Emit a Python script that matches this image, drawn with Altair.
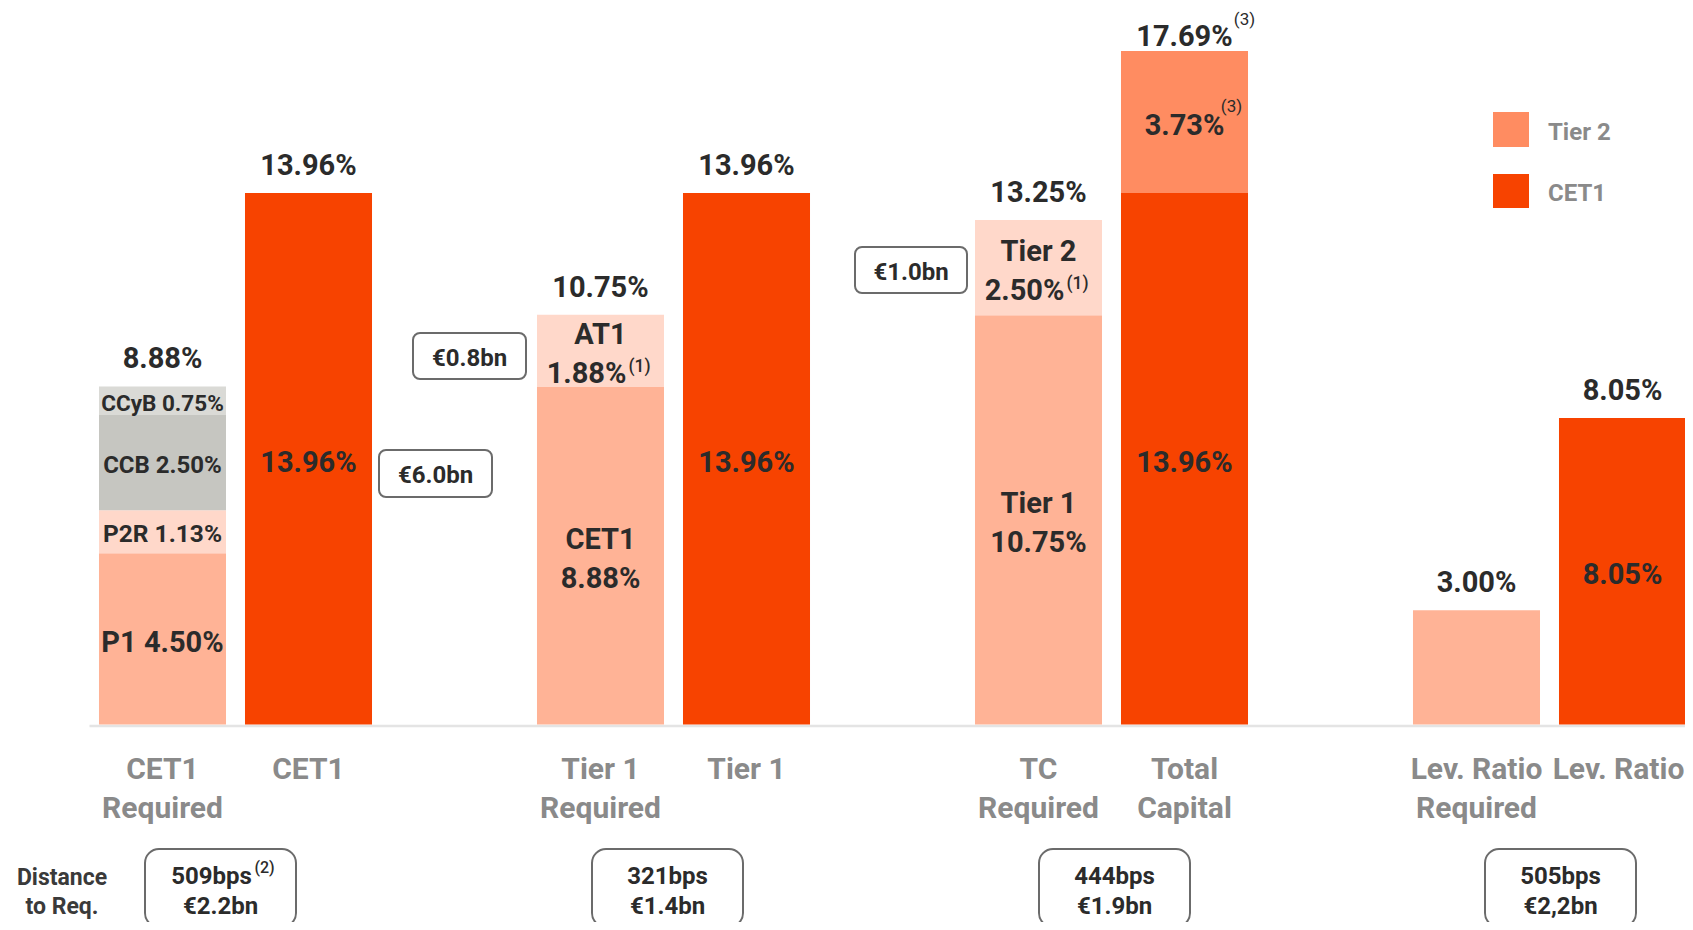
import altair as alt
import pandas as pd

# ---------------- data ----------------
slots = ["CET1 Required", "CET1", "gap_a", "Tier 1 Required", "Tier 1", "gap_b",
         "TC Required", "Total Capital", "gap_c", "Lev. Ratio Required", "Lev. Ratio"]

cat_slots = ["CET1 Required", "CET1", "Tier 1 Required", "Tier 1",
             "TC Required", "Total Capital", "Lev. Ratio Required", "Lev. Ratio"]
cat_labels = ["CET1\nRequired", "CET1", "Tier 1\nRequired", "Tier 1",
              "TC\nRequired", "Total\nCapital", "Lev. Ratio\nRequired", "Lev. Ratio"]
totals = [8.88, 13.96, 10.75, 13.96, 13.25, 17.69, 3.00, 8.05]

seg_slot = ["CET1 Required", "CET1 Required", "CET1 Required", "CET1 Required",
            "CET1",
            "Tier 1 Required", "Tier 1 Required",
            "Tier 1",
            "TC Required", "TC Required",
            "Total Capital", "Total Capital",
            "Lev. Ratio Required",
            "Lev. Ratio"]
seg_name = ["P1", "P2R", "CCB", "CCyB", "CET1", "CET1 req", "AT1", "CET1",
            "Tier 1 req", "Tier 2 req", "CET1", "Tier 2", "Lev req", "CET1"]
seg_kind = ["Requirement", "Add-on", "CCB", "CCyB", "CET1", "Requirement", "Add-on", "CET1",
            "Requirement", "Add-on", "CET1", "Tier 2", "Requirement", "CET1"]
seg_value = [4.50, 1.13, 2.50, 0.75, 13.96, 8.88, 1.88, 13.96,
             10.75, 2.50, 13.96, 3.73, 3.00, 8.05]
seg_line1 = ["P1 4.50%", "P2R 1.13%", "CCB 2.50%", "CCyB 0.75%", "13.96%",
             "CET1", "AT1", "13.96%", "Tier 1", "Tier 2", "13.96%", "3.73%", "", "8.05%"]
seg_line2 = ["", "", "", "", "", "8.88%", "1.88%", "", "10.75%", "2.50%", "", "", "", ""]
seg_sup = ["", "", "", "", "", "", "(1)", "", "", "(1)", "", "", "", ""]

gap_amounts = ["€6.0bn", "€0.8bn", "€1.0bn"]
distance_bps = ["509bps", "321bps", "444bps", "505bps"]
distance_eur = ["€2.2bn", "€1.4bn", "€1.9bn", "€2,2bn"]
distance_sup = ["(2)", "", "", ""]
legend_names = ["Tier 2", "CET1"]

kind_domain = ["Requirement", "Add-on", "CCB", "CCyB", "CET1", "Tier 2"]
kind_range = ["#FFB396", "#FFD8CA", "#C6C6C1", "#DADAD6", "#F74300", "#FF8C61"]

# ---------------- tables ----------------
seg = pd.DataFrame({"slot": seg_slot, "name": seg_name, "kind": seg_kind,
                    "value": seg_value, "line1": seg_line1, "line2": seg_line2,
                    "sup": seg_sup})
seg["y1"] = seg.groupby("slot")["value"].cumsum()
seg["y0"] = seg["y1"] - seg["value"]
seg["mid"] = (seg["y0"] + seg["y1"]) / 2

tot = pd.DataFrame({"slot": cat_slots, "total": totals})
tot["label"] = tot["total"].map(lambda v: f"{v:.2f}%")
cats = pd.DataFrame({"slot": cat_slots, "label": cat_labels})

FONT = "Roboto"
DARK = "#2b2b2b"
GREY = "#8a8a8a"

xs = alt.Scale(domain=slots, range=[81.5, 1687.5], paddingInner=0.13, paddingOuter=0.065)
ys = alt.Scale(domain=[0, 20], range=[716.5, -44.9], nice=False)
X = alt.X("slot:N", scale=xs, axis=None)
YMID = alt.Y("mid:Q", scale=ys, axis=None)

bars = alt.Chart(seg).mark_bar().encode(
    x=X,
    y=alt.Y("y0:Q", scale=ys, axis=None),
    y2="y1:Q",
    color=alt.Color("kind:N", scale=alt.Scale(domain=kind_domain, range=kind_range), legend=None),
)

small_sizes = {"CCyB": 22.5, "CCB": 24, "P2R": 24.5}
small_filter = " || ".join(f"datum.name === '{n}'" for n in small_sizes)


def seg_text(filt, field, size=29, dx=0, dy=0, weight="bold"):
    return alt.Chart(seg).transform_filter(filt).mark_text(
        font=FONT, fontWeight=weight, fontSize=size, color=DARK, baseline="middle",
        align="center", dx=dx, dy=dy).encode(x=X, y=YMID, text=f"{field}:N")


layers_text = [
    seg_text(f"datum.line1 !== '' && datum.line2 === '' && !({small_filter})", "line1", dy=4),
    seg_text("datum.line2 !== ''", "line1", dy=-15.5),
    seg_text("datum.line2 !== '' && datum.sup === ''", "line2", dy=23.5),
    seg_text("datum.line2 !== '' && datum.sup !== ''", "line2", dx=-14, dy=23.5),
    seg_text("datum.sup !== ''", "sup", size=17.5, dx=39, dy=16.5, weight=500),
]
for n, s in small_sizes.items():
    layers_text.append(seg_text(f"datum.name === '{n}'", "line1", size=s, dy=3.5))

top_text = alt.Chart(tot).transform_filter("datum.slot !== 'Total Capital'").mark_text(
    font=FONT, fontWeight="bold", fontSize=29, color=DARK, baseline="middle", dy=-27).encode(
    x=X, y=alt.Y("total:Q", scale=ys, axis=None), text="label:N")
top_text_tc = alt.Chart(tot).transform_filter("datum.slot === 'Total Capital'").mark_text(
    font=FONT, fontWeight="bold", fontSize=29, color=DARK, baseline="middle", dy=-14).encode(
    x=X, y=alt.Y("total:Q", scale=ys, axis=None), text="label:N")

sup_a = alt.Chart(tot).transform_filter("datum.slot === 'Total Capital'").mark_text(
    font=FONT, fontSize=17, color=DARK, baseline="middle", dx=60, dy=-31).encode(
    x=X, y=alt.Y("total:Q", scale=ys, axis=None), text=alt.value("(3)"))
sup_b = alt.Chart(seg).transform_filter("datum.name === 'Tier 2'").mark_text(
    font=FONT, fontSize=17, color=DARK, baseline="middle", dx=47, dy=-15).encode(
    x=X, y=YMID, text=alt.value("(3)"))

cat_kw = dict(font=FONT, fontWeight="bold", fontSize=30, color=GREY, lineBreak="\n",
              lineHeight=39, baseline="alphabetic", align="center")
cat_text = alt.Chart(cats).transform_filter("datum.slot !== 'Lev. Ratio'").mark_text(
    **cat_kw).encode(x=X, y=alt.value(770.5), text="label:N")
cat_text_last = alt.Chart(cats).transform_filter("datum.slot === 'Lev. Ratio'").mark_text(
    dx=-4, **cat_kw).encode(x=X, y=alt.value(770.5), text="label:N")

axis_rule = alt.Chart(pd.DataFrame({"v": [0]})).mark_rule(
    color="#e4e4e4", strokeWidth=2.5, yOffset=1.5).encode(
    y=alt.Y("v:Q", scale=ys, axis=None), x=alt.value(81.5), x2=alt.value(1677))

one = pd.DataFrame({"a": [0]})


def box_rect(x0, x1, y0, y1, radius):
    # page coordinates -> svg coordinates (8px page margin)
    return alt.Chart(one).mark_rect(cornerRadius=radius, fill="white", stroke="#6b6b6b",
                                    strokeWidth=2).encode(
        x=alt.value(x0 - 8), x2=alt.value(x1 - 8), y=alt.value(y0 - 8), y2=alt.value(y1 - 8))


def free_text(cx, cy, text, size, weight="bold", color=DARK, align="center"):
    return alt.Chart(one).mark_text(font=FONT, fontWeight=weight, fontSize=size, color=color,
                                    baseline="middle", align=align).encode(
        x=alt.value(cx - 8), y=alt.value(cy - 8), text=alt.value(text))


layers = [axis_rule, bars] + layers_text + [top_text, top_text_tc, sup_a, sup_b,
                                            cat_text, cat_text_last]

mid_boxes = [(379, 492, 450, 497), (413, 526, 333, 379), (855, 967, 247, 293)]
for (bx0, bx1, by0, by1), lab in zip(mid_boxes, gap_amounts):
    layers += [box_rect(bx0, bx1, by0, by1, 7),
               free_text((bx0 + bx1) / 2, (by0 + by1) / 2 + 2.5, lab, 24)]

bottom_x = [(145, 296), (592, 743), (1039, 1190), (1485, 1636)]
for (bx0, bx1), bps, eur, sup in zip(bottom_x, distance_bps, distance_eur, distance_sup):
    cx = (bx0 + bx1) / 2
    layers.append(box_rect(bx0, bx1, 849, 927, 14))
    if sup:
        layers.append(free_text(cx - 9, 877, bps, 24))
        layers.append(free_text(cx + 44, 868, sup, 16, weight=500))
    else:
        layers.append(free_text(cx, 877, bps, 24))
    layers.append(free_text(cx, 907, eur, 24))

layers.append(free_text(62, 878, "Distance", 23, color="#3a3a3a"))
layers.append(free_text(62, 907, "to Req.", 23, color="#3a3a3a"))

# legend
leg_colors = ["#FF8C61", "#F74300"]
leg_y = [(112, 147), (174, 208)]
for name, col, (ly0, ly1) in zip(legend_names, leg_colors, leg_y):
    layers.append(alt.Chart(one).mark_rect(color=col).encode(
        x=alt.value(1493 - 8), x2=alt.value(1529 - 8), y=alt.value(ly0 - 8), y2=alt.value(ly1 - 8)))
    layers.append(free_text(1548, (ly0 + ly1) / 2 + 3, name, 24, color=GREY, align="left"))

chart = alt.layer(*layers).properties(
    width=1677, height=914,
    autosize=alt.AutoSizeParams(type="none"),
    padding=0,
).configure_view(strokeWidth=0)

chart.save("out.html", embed_options={"renderer": "svg", "actions": False})
